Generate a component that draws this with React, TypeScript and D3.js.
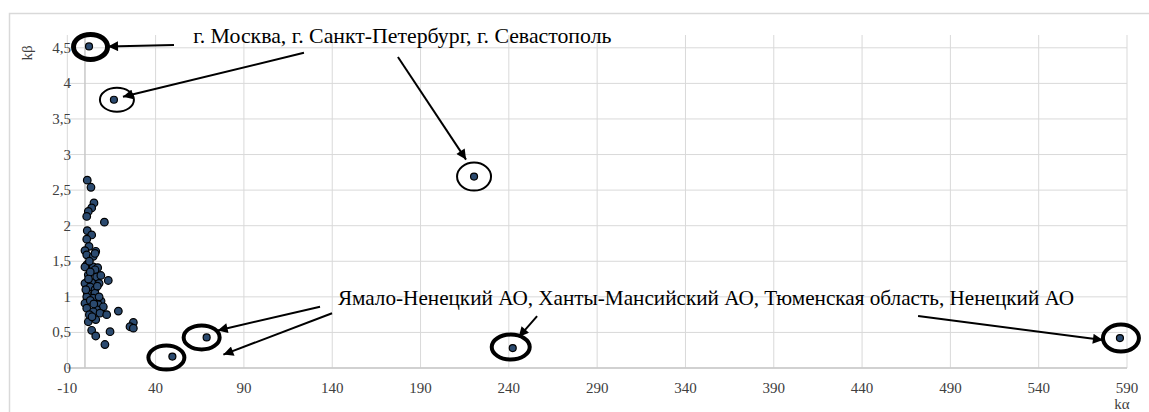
import React from "react";
import { scaleLinear } from "d3";

// ---- data ----
const clusterX = [1.3, 3.4, 5.1, 3.8, 1.9, 1.0, 11.0, 1.3, 3.8, 1.0, 2.3, 0, 6.1, 1.0, 4.7, 5.7, 1.0, 4.7, 7.2, 0, 5.7, 1.9, 6.6, 13.2, 0, 8, 3.8, 2.9, 5.7, 1.3, 5.7, 1, 4.7, 9.1, 0, 7.6, 10.4, 1, 6.6, 18.9, 4.7, 8.5, 12.3, 1.9, 6.1, 27.4, 25.5, 27.4, 3.8, 14.2, 6.1, 11.3, 2.5, 3, 2, 7, 3, 5, 2.5, 8, 4, 0.5, 9];
const clusterY = [2.64, 2.54, 2.32, 2.25, 2.2, 2.13, 2.05, 1.93, 1.87, 1.81, 1.71, 1.65, 1.64, 1.59, 1.57, 1.61, 1.45, 1.42, 1.41, 1.42, 1.38, 1.31, 1.28, 1.23, 1.19, 1.19, 1.2, 1.14, 1.1, 1.04, 1.05, 1.0, 0.98, 0.94, 0.91, 0.89, 0.86, 0.84, 0.82, 0.8, 0.79, 0.77, 0.75, 0.65, 0.68, 0.64, 0.58, 0.56, 0.53, 0.51, 0.45, 0.33, 1.5, 1.35, 1.25, 1.15, 0.95, 0.9, 0.75, 1.0, 0.72, 1.1, 1.3];
// annotated points: Moscow, St Petersburg, Sevastopol, then YaNAO group
const outlierX = [2.3, 16.4, 220.3, 49.5, 68.9, 242.2, 586];
const outlierY = [4.52, 3.77, 2.69, 0.16, 0.43, 0.28, 0.42];

const xTicks = [-10, 40, 90, 140, 190, 240, 290, 340, 390, 440, 490, 540, 590];
const yTicks = [0, 0.5, 1, 1.5, 2, 2.5, 3, 3.5, 4, 4.5];

const label1 = "г. Москва, г. Санкт-Петербург, г. Севастополь";
const label2 = "Ямало-Ненецкий АО, Ханты-Мансийский АО, Тюменская область, Ненецкий АО";
const label1Pos = [61.3, 4.57];
const label2Pos = [143.2, 0.885];

// ellipses around outliers: [outlier index, dx, dy, rx, ry, strokeWidth]
const ellipses = [
  [0, 1.5, 0.5, 17, 12.5, 5],
  [1, 3, 0, 17, 12, 2],
  [2, 0, 0, 17, 14, 2],
  [3, -6, 1, 18, 12, 4],
  [4, -5, 0, 18, 12, 4],
  [5, -2, -1, 19, 12.5, 4],
  [6, 1, 0, 18, 13.5, 4],
];
// arrows: tail in data coords, tip relative to outlier point
const arrowTailX = [50.4, 124, 177.2, 133.1, 139.9, 256, 471.7];
const arrowTailY = [4.54, 4.43, 4.37, 0.86, 0.77, 0.73, 0.73];
const arrowTarget = [0, 1, 2, 4, 3, 5, 6];
const arrowTipDX = [19, 9, -8, 11, 51, 6, -17];
const arrowTipDY = [0, -3, -17, -7, -2, -11, 2];

const W = 1149;
const H = 412;
const SERIF = "Times New Roman";

function T(props: any) {
  const { children, size, ...rest } = props;
  return (
    <text fontFamily={SERIF} fontSize={size} style={{ fontFamily: SERIF, fontSize: size + "px" }} {...rest}>
      {children}
    </text>
  );
}

export default function App() {
  const x = scaleLinear().domain([-10, 590]).range([67.3, 1127]);
  const y = scaleLinear().domain([0, 4.68]).range([368, 35]);
  const grid = "#d9d9d9";
  const fill = "#2b4a6f";

  return (
    <svg width={W} height={H} style={{ position: "absolute", left: 0, top: 0, background: "#fff" }}>
      <defs>
        <marker id="ah" viewBox="0 0 10 10" refX="10" refY="5" markerWidth="6" markerHeight="5" markerUnits="strokeWidth" orient="auto">
          <path d="M0,0 L10,5 L0,10 z" fill="#000" />
        </marker>
      </defs>
      <rect x={9.5} y={13.5} width={1160} height={420} fill="none" stroke={grid} strokeWidth={1.5} />
      {/* gridlines */}
      {xTicks.map((t) => (
        <line key={"gx" + t} x1={x(t)} x2={x(t)} y1={y.range()[1]} y2={y(0)} stroke={grid} strokeWidth={1} />
      ))}
      {yTicks.map((t) => (
        <line key={"gy" + t} x1={x(-10)} x2={x(590)} y1={y(t)} y2={y(t)} stroke={grid} strokeWidth={1} />
      ))}
      {/* axes */}
      <line x1={x(0)} x2={x(0)} y1={y.range()[1]} y2={y(0)} stroke="#c8c8c8" strokeWidth={1.5} />
      <line x1={x(-10)} x2={x(590)} y1={y(0)} y2={y(0)} stroke="#c8c8c8" strokeWidth={1.5} />
      {/* tick labels */}
      {xTicks.map((t) => (
        <T key={"tx" + t} x={x(t)} y={393} textAnchor="middle" size={15} fill="#404040">
          {t}
        </T>
      ))}
      {yTicks.map((t) => (
        <T key={"ty" + t} x={71} y={y(t) + 5} textAnchor="end" size={15} fill="#404040">
          {String(t).replace(".", ",")}
        </T>
      ))}
      <T x={0} y={0} transform="translate(32,53) rotate(-90)" textAnchor="middle" size={15} fill="#404040">
        kβ
      </T>
      <T x={1122} y={409} textAnchor="middle" size={15} fill="#404040">
        kα
      </T>
      {/* points */}
      {clusterX.map((v, i) => (
        <circle key={"c" + i} cx={x(v)} cy={y(clusterY[i])} r={3.8} fill={fill} stroke="#000" strokeWidth={1.2} />
      ))}
      {outlierX.map((v, i) => (
        <circle key={"o" + i} cx={x(v)} cy={y(outlierY[i])} r={3.5} fill={fill} stroke="#000" strokeWidth={1.2} />
      ))}
      {/* ellipses */}
      {ellipses.map(([idx, dx, dy, rx, ry, sw], i) => (
        <ellipse key={"e" + i} cx={x(outlierX[idx]) + dx} cy={y(outlierY[idx]) + dy} rx={rx} ry={ry} fill="none" stroke="#000" strokeWidth={sw} />
      ))}
      {/* arrows */}
      {arrowTailX.map((v, i) => {
        const t = arrowTarget[i];
        return (
          <line
            key={"a" + i}
            x1={x(v)}
            y1={y(arrowTailY[i])}
            x2={x(outlierX[t]) + arrowTipDX[i]}
            y2={y(outlierY[t]) + arrowTipDY[i]}
            stroke="#000"
            strokeWidth={2}
            markerEnd="url(#ah)"
          />
        );
      })}
      {/* annotation text */}
      <T x={x(label1Pos[0])} y={y(label1Pos[1])} size={21.8} fill="#000">
        {label1}
      </T>
      <T x={x(label2Pos[0])} y={y(label2Pos[1])} size={21.2} fill="#000">
        {label2}
      </T>
    </svg>
  );
}
